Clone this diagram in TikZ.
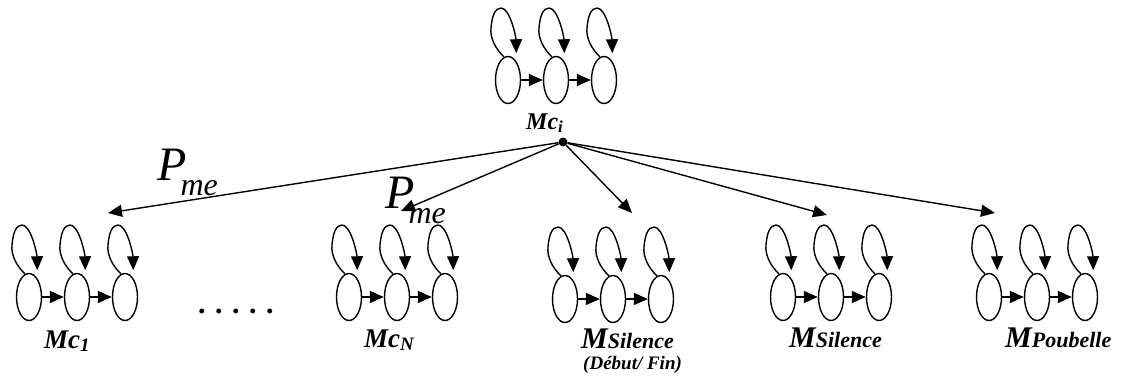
\documentclass[tikz,border=0pt]{standalone}
\usepackage{fontspec}
\setmainfont{Liberation Serif}
\usetikzlibrary{arrows.meta,shapes.geometric}
\tikzset{
  etat/.style={draw, ellipse, line width=1.4pt, minimum width=25pt, minimum height=47pt, inner sep=0pt},
  fleche/.style={line width=1.4pt, -{Triangle[length=14pt,width=12pt]}},
  boucle/.style={fleche, shorten >=8pt},
  nom/.style={anchor=base west, inner sep=0pt},
}
\newcommand{\taille}[1]{\fontsize{#1}{#1}\selectfont}
\newcommand{\modele}[3]{%
  \foreach \k/\dx in {1/-48,2/0,3/48} {
    \begin{scope}[shift={(#2+\dx,#3)}]
      \node[etat] (#1\k) at (0,0) {};
      \draw[boucle] (#1\k.100) .. controls (-13,-32) and (-18,-42) .. (-17,-52)
        .. controls (-16,-64) and (-13,-72) .. (-7,-72)
        .. controls (2,-72) and (8,-43) .. (#1\k.66);
    \end{scope}}
  \draw[fleche] (#11) -- (#12);
  \draw[fleche] (#12) -- (#13);}
\newcommand{\pme}[3]{\node[nom] (#1) at (#2,#3)
  {{\taille{48}\itshape P}\kern-6pt\raisebox{-15pt}{\taille{32}\itshape me}};}

\begin{document}
\begin{tikzpicture}[x=1pt, y=-1pt]
  \useasboundingbox (0,0) rectangle (1124,383);
  \modele{haut}{556}{80}
  \modele{un}{77}{297}
  \modele{enne}{397}{297}
  \modele{sildeb}{613}{299}
  \modele{sil}{831}{297}
  \modele{poub}{1037}{297}

  \node[circle, fill, inner sep=0pt, minimum size=9pt] (hub) at (563,142) {};
  \coordinate (c1) at (108,213);
  \coordinate (c2) at (401,211);
  \coordinate (c3) at (632,213);
  \coordinate (c4) at (827,215);
  \coordinate (c5) at (995,213);
  \foreach \c in {c1,c2,c3,c4,c5}
    \draw[fleche] (hub) -- (\c);

  \pme{pme1}{157}{180}
  \pme{pme2}{385}{208}

  \node[nom, font=\taille{24}\bfseries\itshape] (lhaut) at (526,129) {Mc\textsubscript{i}};
  \node[nom, font=\taille{27}\bfseries\itshape] (lun) at (44,348) {Mc\textsubscript{1}};
  \node[nom, font=\taille{27}\bfseries\itshape] (lenne) at (364,347) {Mc\textsubscript{N}};
  \node[nom, font=\bfseries\itshape] (lsildeb) at (581,348) {{\taille{30}M}{\taille{22}Silence}};
  \node[nom, font=\taille{19}\bfseries\itshape] (ldebfin) at (583,369) {(Début/ Fin)};
  \node[nom, font=\bfseries\itshape] (lsil) at (789,347) {{\taille{30}M}{\taille{22}Silence}};
  \node[nom, font=\bfseries\itshape] (lpoub) at (1005,347) {{\taille{30}M}{\taille{22}Poubelle}};
  \node[nom, font=\taille{30}\bfseries] (points) at (198,313)
    {.\kern9.5pt.\kern9.5pt.\kern9.5pt.\kern9.5pt.};
\end{tikzpicture}
\end{document}
